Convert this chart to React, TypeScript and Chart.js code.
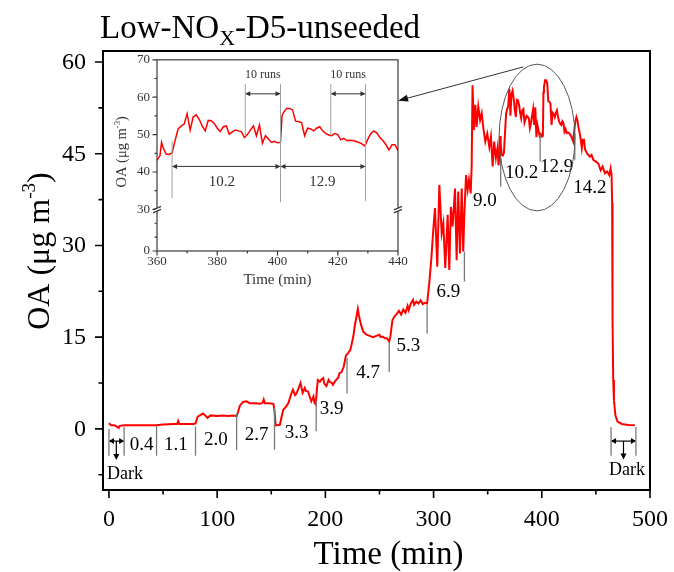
import React, { useEffect, useRef } from 'react';
import { Chart, registerables } from 'chart.js';

Chart.register(...registerables);

const SERIF = '"Liberation Serif", "Times New Roman", Times, serif';

// ---------------- data (OA in µg m-3 vs time in min) ----------------
const earlyTime = [0, 2, 5, 8, 9, 10, 14, 20, 30, 40, 44, 50, 60, 63, 64, 65, 70, 78, 80, 82, 84, 87, 89, 91, 94, 100, 105, 110, 115, 118, 119, 121, 124, 127, 130, 135, 140, 142, 143, 144, 148, 152, 153, 154, 156, 158, 161, 164, 166, 168, 170, 172, 173, 175, 177, 179, 181, 182, 184, 186, 187, 189, 190, 191, 192, 193, 195, 196, 198, 199, 201, 203, 204, 206, 207, 209, 210, 212, 213, 215, 217, 219, 221, 223, 224, 226, 227, 229, 230, 231, 233, 235, 238, 241, 244, 247, 250, 251, 253, 255, 257, 259, 260, 262, 264, 266, 268, 270, 272, 274, 276, 277, 279, 281, 282, 284, 286, 288, 290, 292, 294, 296, 298, 299.7, 301.3, 303.4, 305.3, 307.5, 309, 310.8, 313, 314.5, 316, 317.6, 319.8, 321.3, 322.8, 324.4, 326, 327.4, 328.4, 330, 331.5, 332.7, 334.3, 335.2, 336, 337.3, 338.6, 339.8, 341.3, 343, 344.5, 346, 347.8, 349.6, 351.5, 353, 354.6, 356, 357.6, 359.2];
const earlyOA = [0.9, 0.6, 0.6, 0.3, 0.15, 0.5, 0.6, 0.6, 0.6, 0.6, 0.6, 0.7, 0.8, 0.8, 1.3, 0.8, 0.8, 0.8, 0.9, 2.0, 2.2, 2.5, 2.2, 1.8, 2.2, 2.1, 2.2, 2.1, 2.2, 2.1, 2.6, 3.8, 4.4, 4.5, 4.2, 4.2, 4.1, 4.3, 4.8, 4.2, 4.2, 4.1, 3.0, 0.6, 0.6, 0.7, 3.1, 3.7, 4.3, 5.5, 6.4, 5.5, 5.7, 6.5, 7.5, 5.9, 6.7, 6.2, 6.1, 5.0, 4.5, 5.3, 4.2, 4.0, 6.0, 8.0, 7.7, 8.0, 8.3, 7.4, 7.0, 8.0, 7.7, 7.5, 7.2, 7.8, 8.0, 8.4, 9.1, 9.3, 10.2, 12.0, 12.4, 12.9, 13.6, 15.3, 16.7, 18.6, 19.6, 18.5, 17.0, 15.9, 15.4, 15.2, 15.0, 15.2, 15.4, 15.0, 15.1, 14.8, 14.8, 14.3, 15.0, 17.8, 18.4, 18.8, 19.3, 18.7, 19.5, 19.0, 20.1, 19.4, 20.5, 21.1, 20.3, 20.8, 20.5, 21.0, 20.4, 20.6, 20.5, 23.8, 28.0, 32.5, 36.1, 26.5, 39.9, 32.0, 33.6, 26.3, 35.0, 26.0, 36.3, 33.1, 39.3, 27.6, 38.8, 28.7, 39.3, 29.0, 35.0, 41.5, 39.1, 40.7, 38.5, 43.0, 56.2, 48.9, 53.0, 49.4, 52.7, 50.5, 51.6, 49.2, 47.0, 48.3, 46.1, 47.8, 42.9, 47.0, 44.3, 46.1];

const insetTime = [360, 361, 361.5, 362, 363, 364, 365, 366, 367, 368, 369, 370, 371, 372, 373, 374, 375, 376, 377, 378, 379, 380, 381, 382, 383, 384, 385, 386, 387, 388, 389, 390, 391, 392, 393, 394, 395, 396, 397, 398, 399, 400, 401, 401.5, 402, 403, 404, 405, 406, 407, 408, 409, 410, 411, 412, 413, 414, 415, 416, 417, 418, 419, 420, 421, 422, 423, 424, 425, 426, 427, 428, 429, 430, 431, 432, 433, 434, 435, 436, 437, 438, 439, 440];
const insetOA = [43.1, 44.4, 47.9, 46.6, 44.8, 44.7, 45.1, 48.4, 51.5, 52.3, 52.8, 55.6, 51.2, 54.7, 55.3, 54.1, 52.3, 51.0, 53.8, 53.7, 53.0, 51.7, 50.8, 52.1, 52.3, 50.1, 50.7, 51.2, 51.0, 50.8, 49.2, 50.0, 51.2, 52.3, 49.7, 52.6, 47.7, 49.7, 48.8, 47.9, 48.2, 47.8, 47.9, 55.0, 55.9, 57.0, 57.0, 56.6, 53.6, 53.5, 53.2, 49.7, 51.7, 51.5, 51.0, 51.7, 52.1, 51.0, 50.3, 49.9, 49.7, 50.3, 50.0, 48.6, 49.0, 48.4, 48.5, 48.4, 48.2, 47.9, 47.5, 47.0, 48.8, 50.3, 51.0, 50.4, 49.2, 48.4, 47.3, 45.9, 47.3, 47.3, 45.7];

const lateTime = [442, 444.5, 446, 447.6, 450, 452.2, 454.4, 456.2, 458.4, 460.5, 462.4, 463.6, 464.5, 465, 465.4, 466, 466.7, 468, 470, 474, 480, 486];
const lateOA = [45.0, 44.5, 44.8, 44.0, 43.7, 43.4, 42.3, 42.9, 41.8, 42.1, 41.5, 42.6, 41.5, 37.0, 18.0, 8.0, 4.7, 2.2, 1.2, 0.8, 0.65, 0.6];

// ---------------- axes ticks ----------------
const mainXMajor = [0, 100, 200, 300, 400, 500];
const mainXMinor = [50, 150, 250, 350, 450];
const mainYMajor = [0, 15, 30, 45, 60];
const mainYMinor = [-7.5, 7.5, 22.5, 37.5, 52.5];

const insetXMajor = [360, 380, 400, 420, 440];
const insetXMinor = [370, 390, 410, 430];
const insetYHighMajor = [30, 40, 50, 60, 70];
const insetYHighMinor = [35, 45, 55, 65];
const insetYLowMajor = [0];
const insetYLowMinor = [10, 20];

// ---------------- annotations ----------------
const boundaryT = [0, 14, 44, 80, 118, 153, 191.5, 220, 259, 294, 328.5, 362, 398.5, 430.5, 464, 487];
const boundaryTop = [0, 0.3, 0.5, 0.4, 2.6, 3.4, 4.6, 11.6, 14.2, 20.3, 29.0, 44.3, 48.1, 48.3, 0.3, 0.3];
const boundaryBottom = [-4.4, -4.4, -4.4, -4.4, -3.5, -3.4, -0.4, 5.8, 9.3, 15.6, 24.1, 39.6, 43.7, 44.0, -4.4, -4.4];

const segText = ['0.4', '1.1', '2.0', '2.7', '3.3', '3.9', '4.7', '5.3', '6.9', '9.0', '10.2', '12.9', '14.2'];
const segLabelT = [30.1, 61.9, 98.9, 136.5, 173.5, 205.8, 239.6, 276.6, 313.6, 347.5, 381.4, 413.8, 444.5];
const segLabelV = [-2.6, -2.6, -1.8, -1.0, -0.65, 3.3, 9.1, 13.6, 22.4, 37.2, 41.8, 42.8, 39.4];

const insetBoundT = [365, 389.3, 401, 417.7, 429.2];
const insetBoundTop = [48.4, 63.5, 63.5, 63.5, 63.5];
const insetBoundBottom = [33.0, 49.7, 31.9, 49.7, 32.2];
const insetSegText = ['10.2', '12.9'];
const insetSegT = [381.5, 414.9];
const insetRunsT = [395.1, 423.4];

function arrowHead(ctx: CanvasRenderingContext2D, x: number, y: number, ang: number, len: number, half: number) {
  const c = Math.cos(ang), s = Math.sin(ang);
  ctx.beginPath();
  ctx.moveTo(x, y);
  ctx.lineTo(x - len * c - half * s, y - len * s + half * c);
  ctx.lineTo(x - len * c + half * s, y - len * s - half * c);
  ctx.closePath();
  ctx.fill();
}

function doubleArrow(ctx: CanvasRenderingContext2D, x1: number, x2: number, y: number, len: number, half: number) {
  ctx.beginPath();
  ctx.moveTo(x1 + 1, y);
  ctx.lineTo(x2 - 1, y);
  ctx.stroke();
  arrowHead(ctx, x1, y, Math.PI, len, half);
  arrowHead(ctx, x2, y, 0, len, half);
}

function unitLabel(ctx: CanvasRenderingContext2D, cx: number, cy: number, size: number, rotate: boolean, color: string) {
  const sup = size * 0.6;
  ctx.save();
  ctx.translate(cx, cy);
  if (rotate) ctx.rotate(-Math.PI / 2);
  ctx.fillStyle = color;
  ctx.textAlign = 'left';
  ctx.textBaseline = 'alphabetic';
  const p1 = 'OA (\u03bcg m';
  const p2 = '-3';
  const p3 = ')';
  ctx.font = `${size}px ${SERIF}`;
  const w1 = ctx.measureText(p1).width;
  const w3 = ctx.measureText(p3).width;
  ctx.font = `${sup}px ${SERIF}`;
  const w2 = ctx.measureText(p2).width;
  let x = -(w1 + w2 + w3) / 2;
  const base = size * 0.33;
  ctx.font = `${size}px ${SERIF}`;
  ctx.fillText(p1, x, base);
  x += w1;
  ctx.font = `${sup}px ${SERIF}`;
  ctx.fillText(p2, x, base - size * 0.42);
  x += w2;
  ctx.font = `${size}px ${SERIF}`;
  ctx.fillText(p3, x, base);
  ctx.restore();
}

const mainDecor = {
  id: 'mainDecor',
  afterDraw(chart: any) {
    const { ctx, chartArea: a } = chart;
    const xs = chart.scales.x;
    const ys = chart.scales.y;
    const X = (v: number) => xs.getPixelForValue(v);
    const Y = (v: number) => ys.getPixelForValue(v);
    ctx.save();
    // frame
    ctx.strokeStyle = '#000';
    ctx.lineWidth = 2;
    ctx.strokeRect(a.left, a.top, a.right - a.left, a.bottom - a.top);
    // ticks (outward)
    ctx.lineWidth = 1.6;
    ctx.beginPath();
    mainXMajor.forEach((v) => { ctx.moveTo(X(v), a.bottom); ctx.lineTo(X(v), a.bottom + 8); });
    mainXMinor.forEach((v) => { ctx.moveTo(X(v), a.bottom); ctx.lineTo(X(v), a.bottom + 4.5); });
    mainYMajor.forEach((v) => { ctx.moveTo(a.left, Y(v)); ctx.lineTo(a.left - 8, Y(v)); });
    mainYMinor.forEach((v) => { ctx.moveTo(a.left, Y(v)); ctx.lineTo(a.left - 4.5, Y(v)); });
    ctx.stroke();

    // tick labels from the scales' ticks
    ctx.fillStyle = '#000';
    ctx.font = `24px ${SERIF}`;
    ctx.textBaseline = 'middle';
    ctx.textAlign = 'center';
    xs.ticks.forEach((t: any) => ctx.fillText(String(t.value), X(t.value), a.bottom + 29.5));
    ctx.textAlign = 'right';
    ys.ticks.forEach((t: any) => ctx.fillText(String(t.value), a.left - 17, Y(t.value) + 0.5));

    // segment boundary lines
    ctx.strokeStyle = '#7a7a7a';
    ctx.lineWidth = 1.3;
    ctx.beginPath();
    boundaryT.forEach((t, i) => {
      ctx.moveTo(X(t), Y(boundaryTop[i]));
      ctx.lineTo(X(t), Y(boundaryBottom[i]));
    });
    ctx.stroke();

    // segment labels
    ctx.fillStyle = '#000';
    ctx.font = `19px ${SERIF}`;
    ctx.textAlign = 'center';
    ctx.textBaseline = 'middle';
    segText.forEach((s, i) => ctx.fillText(s, X(segLabelT[i]), Y(segLabelV[i])));

    // Dark annotations
    ctx.strokeStyle = '#000';
    ctx.fillStyle = '#000';
    ctx.lineWidth = 1.2;
    doubleArrow(ctx, X(0), X(14), Y(-2.0), 5, 3);
    ctx.beginPath(); ctx.moveTo(X(6.8), Y(-2.0)); ctx.lineTo(X(6.8), Y(-4.3)); ctx.stroke();
    arrowHead(ctx, X(6.8), Y(-5.1), Math.PI / 2, 6, 3);
    doubleArrow(ctx, X(464), X(487), Y(-2.0), 5, 3);
    ctx.beginPath(); ctx.moveTo(X(475.5), Y(-2.0)); ctx.lineTo(X(475.5), Y(-4.2)); ctx.stroke();
    arrowHead(ctx, X(475.5), Y(-5.0), Math.PI / 2, 6, 3);
    ctx.font = `18px ${SERIF}`;
    ctx.fillText('Dark', X(14.8), Y(-7.4));
    ctx.fillText('Dark', X(478.7), Y(-6.8));

    // ellipse around zoomed region
    const cx = X(395.6), cy = Y(47.65);
    const rx = X(395.6 + 35.1) - cx;
    const ry = cy - Y(47.65 + 12.0);
    ctx.strokeStyle = '#555';
    ctx.lineWidth = 1;
    ctx.beginPath();
    ctx.ellipse(cx, cy, rx, ry, 0, 0, Math.PI * 2);
    ctx.stroke();

    // arrow to inset
    const x1 = X(382.9), y1 = Y(59.2), x2 = X(267.2), y2 = Y(53.67);
    ctx.strokeStyle = '#333';
    ctx.fillStyle = '#111';
    ctx.beginPath(); ctx.moveTo(x1, y1); ctx.lineTo(x2 + 6, y2 - 1.6); ctx.stroke();
    arrowHead(ctx, x2, y2, Math.atan2(y2 - y1, x2 - x1), 10, 3.5);

    // title
    ctx.fillStyle = '#000';
    ctx.textAlign = 'left';
    ctx.textBaseline = 'alphabetic';
    let tx = 100;
    const by = 38;
    ctx.font = `33px ${SERIF}`;
    ctx.fillText('Low-NO', tx, by);
    tx += ctx.measureText('Low-NO').width;
    ctx.font = `22px ${SERIF}`;
    ctx.fillText('X', tx, by + 7);
    tx += ctx.measureText('X').width;
    ctx.font = `33px ${SERIF}`;
    ctx.fillText('-D5-unseeded', tx, by);

    // axis titles
    ctx.font = `33px ${SERIF}`;
    ctx.textAlign = 'center';
    ctx.fillText('Time (min)', (a.left + a.right) / 2 + 12, 564);
    unitLabel(ctx, 38, 251, 32, true, '#000');
    ctx.restore();
  },
};

const insetDecor = {
  id: 'insetDecor',
  afterDraw(chart: any) {
    const { ctx, chartArea: a } = chart;
    const xs = chart.scales.x;
    const yh = chart.scales.yHigh;
    const yl = chart.scales.yLow;
    const X = (v: number) => xs.getPixelForValue(v);
    const Y = (v: number) => yh.getPixelForValue(v);
    const YL = (v: number) => yl.getPixelForValue(v);
    ctx.save();
    ctx.strokeStyle = '#3a3a3a';
    ctx.lineWidth = 1.2;
    ctx.strokeRect(a.left, a.top, a.right - a.left, a.bottom - a.top);
    ctx.beginPath();
    insetXMajor.forEach((v) => { ctx.moveTo(X(v), a.bottom); ctx.lineTo(X(v), a.bottom + 4.5); });
    insetXMinor.forEach((v) => { ctx.moveTo(X(v), a.bottom); ctx.lineTo(X(v), a.bottom + 2.5); });
    insetYHighMajor.forEach((v) => { ctx.moveTo(a.left, Y(v)); ctx.lineTo(a.left - 4.5, Y(v)); });
    insetYHighMinor.forEach((v) => { ctx.moveTo(a.left, Y(v)); ctx.lineTo(a.left - 2.5, Y(v)); });
    insetYLowMajor.forEach((v) => { ctx.moveTo(a.left, YL(v)); ctx.lineTo(a.left - 4.5, YL(v)); });
    insetYLowMinor.forEach((v) => { ctx.moveTo(a.left, YL(v)); ctx.lineTo(a.left - 2.5, YL(v)); });
    ctx.stroke();

    // axis break marks
    const yb = Y(30);
    [a.left, a.right].forEach((ax) => {
      ctx.fillStyle = '#fff';
      ctx.fillRect(ax - 1.5, yb - 1.5, 3, 3);
      ctx.beginPath();
      ctx.moveTo(ax - 4, yb + 0.5); ctx.lineTo(ax + 4, yb - 3);
      ctx.moveTo(ax - 4, yb + 3.5); ctx.lineTo(ax + 4, yb);
      ctx.stroke();
    });

    // run boundaries
    ctx.strokeStyle = '#a0a0a0';
    ctx.lineWidth = 1;
    ctx.beginPath();
    insetBoundT.forEach((t, i) => {
      ctx.moveTo(X(t), Y(insetBoundTop[i]));
      ctx.lineTo(X(t), Y(insetBoundBottom[i]));
    });
    ctx.stroke();

    ctx.strokeStyle = '#333';
    ctx.fillStyle = '#333';
    ctx.lineWidth = 1;
    doubleArrow(ctx, X(365), X(401), Y(41.5), 5, 2.5);
    doubleArrow(ctx, X(401), X(429.2), Y(41.5), 5, 2.5);
    doubleArrow(ctx, X(389.3), X(401), Y(60.9), 5, 2.5);
    doubleArrow(ctx, X(417.7), X(429.2), Y(60.9), 5, 2.5);

    ctx.textAlign = 'center';
    ctx.textBaseline = 'middle';
    ctx.font = `15px ${SERIF}`;
    insetSegText.forEach((s, i) => ctx.fillText(s, X(insetSegT[i]), Y(37.2)));
    ctx.font = `12px ${SERIF}`;
    insetRunsT.forEach((t) => ctx.fillText('10 runs', X(t), Y(66.1)));

    // axis titles
    ctx.font = `15px ${SERIF}`;
    ctx.textBaseline = 'alphabetic';
    ctx.fillText('Time (min)', (a.left + a.right) / 2, a.bottom + 33);
    unitLabel(ctx, a.left - 36, a.top + 92, 14.5, true, '#333');
    ctx.restore();
  },
};

export default function App() {
  const mainRef = useRef<HTMLCanvasElement>(null);
  const insetRef = useRef<HTMLCanvasElement>(null);

  useEffect(() => {
    const mainData = [
      ...earlyTime.map((t, i) => ({ x: t, y: earlyOA[i] })),
      ...insetTime.map((t, i) => ({ x: t, y: insetOA[i] })),
      ...lateTime.map((t, i) => ({ x: t, y: lateOA[i] })),
    ];
    const insetData = insetTime.map((t, i) => ({ x: t, y: insetOA[i] }));

    const main = new Chart(mainRef.current as HTMLCanvasElement, {
      type: 'line',
      data: {
        datasets: [{
          data: mainData,
          borderColor: '#ff0000',
          borderWidth: 2,
          pointRadius: 0,
          fill: false,
          tension: 0,
        }],
      },
      options: {
        responsive: false,
        animation: false,
        devicePixelRatio: 1,
        layout: { padding: { left: 0, right: 24, top: 51, bottom: 0 } },
        plugins: { legend: { display: false }, tooltip: { enabled: false }, title: { display: false } },
        scales: {
          x: {
            type: 'linear',
            min: -5.5,
            max: 500,
            grid: { display: false, drawTicks: false },
            border: { display: false },
            afterBuildTicks: (s: any) => { s.ticks = mainXMajor.map((v) => ({ value: v })); },
            afterFit: (s: any) => { s.height = 82; },
            ticks: { display: false },
          },
          y: {
            type: 'linear',
            min: -10,
            max: 61.8,
            grid: { display: false, drawTicks: false },
            border: { display: false },
            afterBuildTicks: (s: any) => { s.ticks = mainYMajor.map((v) => ({ value: v })); },
            afterFit: (s: any) => { s.width = 103; },
            ticks: { display: false },
          },
        },
      } as any,
      plugins: [mainDecor],
    });

    const inset = new Chart(insetRef.current as HTMLCanvasElement, {
      type: 'line',
      data: {
        datasets: [{
          data: insetData,
          xAxisID: 'x',
          yAxisID: 'yHigh',
          borderColor: '#ff0000',
          borderWidth: 1.5,
          pointRadius: 0,
          fill: false,
          tension: 0,
        }],
      },
      options: {
        responsive: false,
        animation: false,
        devicePixelRatio: 1,
        layout: { padding: { left: 0, right: 22, top: 13, bottom: 0 } },
        plugins: { legend: { display: false }, tooltip: { enabled: false }, title: { display: false } },
        scales: {
          x: {
            type: 'linear',
            min: 360,
            max: 440,
            grid: { display: false, drawTicks: false },
            border: { display: false },
            afterBuildTicks: (s: any) => { s.ticks = insetXMajor.map((v) => ({ value: v })); },
            afterFit: (s: any) => { s.height = 49; },
            ticks: { font: { family: SERIF, size: 13 }, color: '#333', padding: 3, maxRotation: 0, autoSkip: false },
          },
          yLow: {
            type: 'linear',
            position: 'left',
            stack: 'insetY',
            stackWeight: 42,
            min: 0,
            max: 30,
            grid: { display: false, drawTicks: false },
            border: { display: false },
            afterBuildTicks: (s: any) => { s.ticks = insetYLowMajor.map((v) => ({ value: v })); },
            afterFit: (s: any) => { s.width = 57; },
            ticks: { font: { family: SERIF, size: 13 }, color: '#333', padding: 7, autoSkip: false },
          },
          yHigh: {
            type: 'linear',
            position: 'left',
            stack: 'insetY',
            stackWeight: 151,
            min: 30,
            max: 70,
            grid: { display: false, drawTicks: false },
            border: { display: false },
            afterBuildTicks: (s: any) => { s.ticks = insetYHighMajor.map((v) => ({ value: v })); },
            afterFit: (s: any) => { s.width = 57; },
            ticks: { font: { family: SERIF, size: 13 }, color: '#333', padding: 7, autoSkip: false },
          },
        },
      } as any,
      plugins: [insetDecor],
    });

    return () => {
      main.destroy();
      inset.destroy();
    };
  }, []);

  return (
    <div style={{ position: 'absolute', left: 0, top: 0, width: 674, height: 572, background: '#fff', overflow: 'hidden' }}>
      <canvas ref={mainRef} width={674} height={572} style={{ position: 'absolute', left: 0, top: 0 }} />
      <canvas ref={insetRef} width={320} height={255} style={{ position: 'absolute', left: 100, top: 45 }} />
    </div>
  );
}
